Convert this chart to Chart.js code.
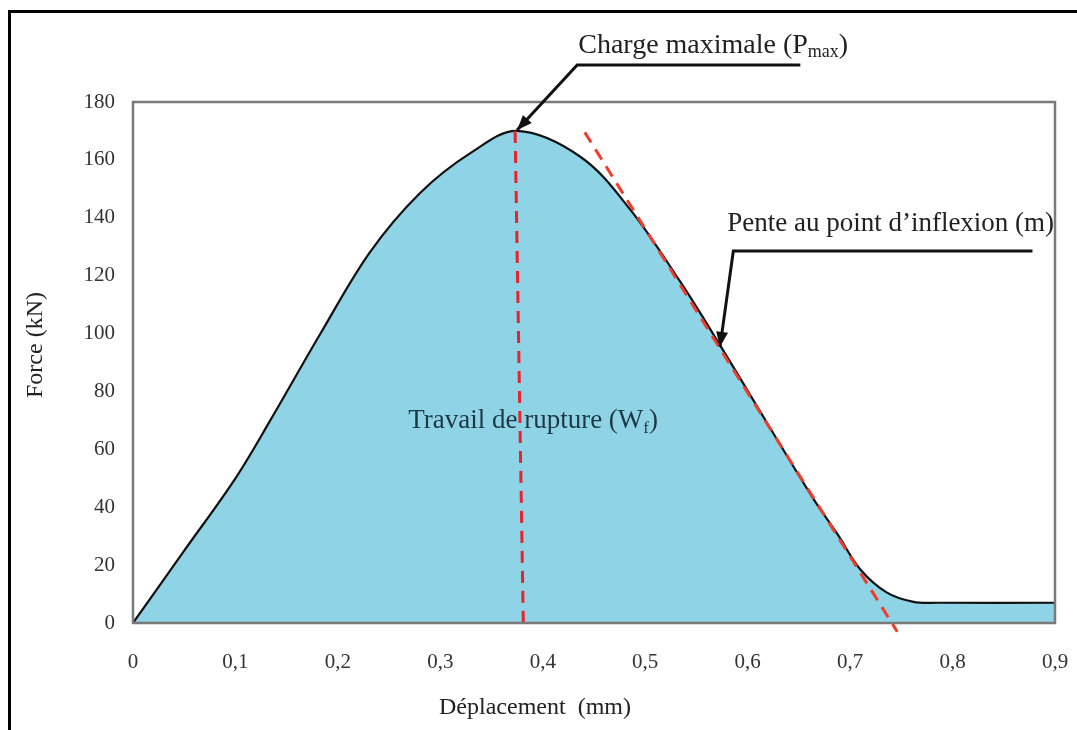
<!DOCTYPE html>
<html>
<head>
<meta charset="utf-8">
<script src="https://cdn.jsdelivr.net/npm/chart.js@4/dist/chart.umd.min.js"></script>
<style>
  html, body { margin: 0; padding: 0; background: #fff; }
  #wrap { width: 1077px; height: 730px; position: relative; }
</style>
</head>
<body>
<div id="wrap"><canvas id="chart"></canvas></div>
<script>
// Force / déplacement curve
const dispX  = [0, 0.05, 0.1, 0.134, 0.183, 0.231, 0.28, 0.33, 0.375, 0.437, 0.485, 0.534, 0.573, 0.62, 0.664, 0.688, 0.71, 0.736, 0.762, 0.785, 0.9];
const forceY = [0, 25, 50, 70, 100, 128, 148.5, 162.5, 170, 161, 143, 118, 96, 68.5, 43, 30.5, 18.5, 10.5, 7.3, 7, 7];

// red dashed guides
const pmaxX = [0.373, 0.381];
const pmaxY = [170, 0];
const slopeX = [0.441, 0.746];
const slopeY = [169.5, -3];

// axis ticks
const xTicks = { min: 0, max: 0.9, step: 0.1 };
const yTicks = { min: 0, max: 180, step: 20 };

const pts = (xs, ys) => xs.map((x, i) => ({ x, y: ys[i] }));
const SERIF = "'Liberation Serif', 'Times New Roman', serif";

// leader lines + labels, anchored in data units
const notes = {
  charge: { path: [[0.6514, 192.8], [0.4336, 192.8], [0.375, 170.3]], at: [0.4346, 196.9] },
  pente:  { path: [[0.878, 128.5], [0.586, 128.5], [0.573, 95.4]], at: [0.580, 135.4] },
  travail: { at: [0.2686, 67.4] },
};

function drawParts(ctx, x, y, parts, color) {
  ctx.fillStyle = color;
  ctx.textBaseline = "alphabetic";
  ctx.textAlign = "left";
  for (const [txt, size, dy] of parts) {
    ctx.font = `${size}px ${SERIF}`;
    ctx.fillText(txt, x, y + dy);
    x += ctx.measureText(txt).width;
  }
}

function arrow(ctx, path) {
  ctx.save();
  ctx.strokeStyle = "#111"; ctx.fillStyle = "#111"; ctx.lineWidth = 3;
  ctx.beginPath();
  path.forEach(([x, y], i) => i ? ctx.lineTo(x, y) : ctx.moveTo(x, y));
  ctx.stroke();
  const [x1, y1] = path[path.length - 2], [x2, y2] = path[path.length - 1];
  const a = Math.atan2(y2 - y1, x2 - x1), L = 15, W = 6;
  ctx.beginPath();
  ctx.moveTo(x2, y2);
  ctx.lineTo(x2 - L * Math.cos(a) + W * Math.sin(a), y2 - L * Math.sin(a) - W * Math.cos(a));
  ctx.lineTo(x2 - L * Math.cos(a) - W * Math.sin(a), y2 - L * Math.sin(a) + W * Math.cos(a));
  ctx.closePath(); ctx.fill();
  ctx.restore();
}

const decor = {
  id: "decor",
  beforeDraw(chart) {
    const ctx = chart.ctx;
    ctx.save();
    ctx.strokeStyle = "#000"; ctx.lineWidth = 3;
    ctx.beginPath();
    ctx.moveTo(9.5, 730); ctx.lineTo(9.5, 11.5); ctx.lineTo(1077, 11.5);
    ctx.stroke();
    ctx.restore();
  },
  afterDatasetsDraw(chart) {
    const { ctx, chartArea: a, scales: { x, y } } = chart;
    const px = ([vx, vy]) => [x.getPixelForValue(vx), y.getPixelForValue(vy)];

    ctx.save();
    ctx.strokeStyle = "#7a7a7a"; ctx.lineWidth = 2.5;
    ctx.strokeRect(a.left, a.top, a.right - a.left, a.bottom - a.top);

    arrow(ctx, notes.charge.path.map(px));
    arrow(ctx, notes.pente.path.map(px));

    let [tx, ty] = px(notes.charge.at);
    drawParts(ctx, tx, ty, [["Charge maximale (P", 28, 0], ["max", 18, 4], [")", 28, 0]], "#222");
    [tx, ty] = px(notes.pente.at);
    drawParts(ctx, tx, ty, [["Pente au point d\u2019inflexion (m)", 27, 0]], "#222");
    [tx, ty] = px(notes.travail.at);
    drawParts(ctx, tx, ty, [["Travail de rupture (W", 27, 0], ["f", 17, 5], [")", 27, 0]], "#1d3944");

    // axis titles
    ctx.fillStyle = "#222";
    ctx.textAlign = "center"; ctx.textBaseline = "middle";
    ctx.font = `24px ${SERIF}`;
    ctx.fillText("D\u00e9placement  (mm)", 535, 708);
    ctx.translate(36, 345); ctx.rotate(-Math.PI / 2);
    ctx.fillText("Force (kN)", 0, 0);
    ctx.restore();
  },
};

new Chart(document.getElementById("chart"), {
  type: "line",
  data: {
    datasets: [
      { data: pts(pmaxX, pmaxY), borderColor: "#e8232b", borderWidth: 3, borderDash: [12, 8],
        pointRadius: 0, fill: false, clip: false },
      { data: pts(slopeX, slopeY), borderColor: "#ef3d2a", borderWidth: 3, borderDash: [12, 8],
        pointRadius: 0, fill: false, clip: false },
      { data: pts(dispX, forceY), borderColor: "#111", borderWidth: 2.2, pointRadius: 0,
        tension: 0.35, fill: "origin", backgroundColor: "#8fd3e7" },
    ],
  },
  options: {
    responsive: true, maintainAspectRatio: false, animation: false,
    layout: { padding: { top: 102, right: 22, left: 0, bottom: 0 } },
    plugins: { legend: { display: false }, tooltip: { enabled: false } },
    scales: {
      x: {
        type: "linear", min: xTicks.min, max: xTicks.max,
        grid: { display: false, drawTicks: false }, border: { display: false },
        ticks: { stepSize: xTicks.step, padding: 27, color: "#333", font: { family: SERIF, size: 21 },
                 callback: v => v === 0 ? "0" : v.toFixed(1).replace(".", ",") },
        afterFit: s => { s.height = 107; s.paddingLeft = 0; s.paddingRight = 0; },
      },
      y: {
        min: yTicks.min, max: yTicks.max,
        grid: { display: false, drawTicks: false }, border: { display: false },
        ticks: { stepSize: yTicks.step, padding: 18, color: "#333", font: { family: SERIF, size: 21 } },
        afterFit: s => { s.width = 133; s.paddingTop = 0; s.paddingBottom = 0; },
      },
    },
  },
  plugins: [decor],
});
</script>
</body>
</html>
